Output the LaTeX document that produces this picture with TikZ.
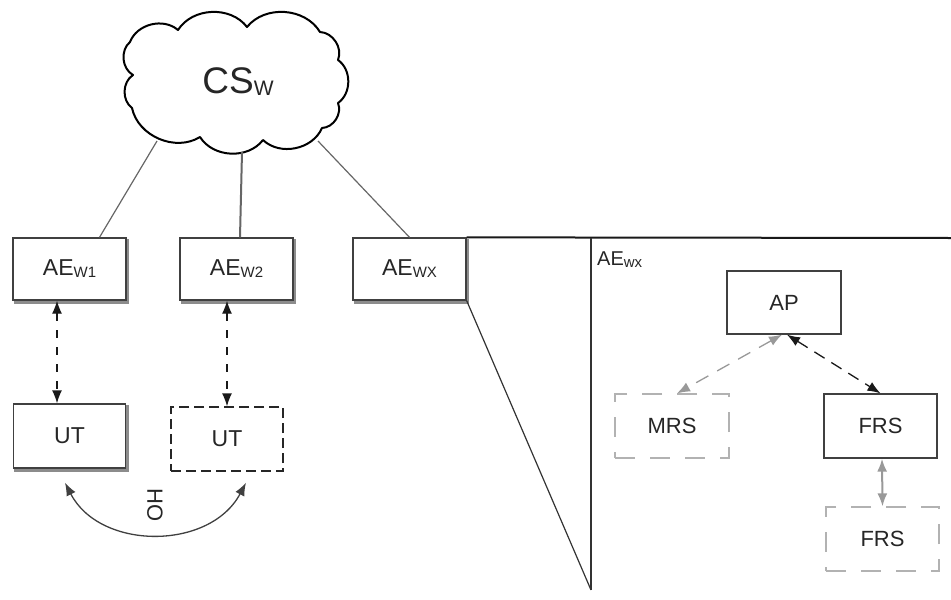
\documentclass[tikz,border=0pt]{standalone}
\usepackage{fontspec}
\setmainfont{Liberation Sans}
\usetikzlibrary{arrows.meta}

% small lowered index used in the labels
\newcommand\sbs[2][15]{{\fontsize{#1}{#1}\selectfont\raisebox{-2pt}{#2}}}

\begin{document}
\begin{tikzpicture}[x=1pt,y=-1pt,
  txt/.style={text=black!85},
  box/.style={draw=black!75, line width=1.3pt, fill=white, inner sep=0pt,
    minimum width=113pt, minimum height=62pt,
    font=\fontsize{23}{26}\selectfont, txt},
  dbox/.style={box, draw=black!85, dash pattern=on 10pt off 5pt, line width=1.3pt},
  gbox/.style={box, draw=black!30, dash pattern=on 20pt off 15pt, line width=1.2pt,
    font=\fontsize{22}{24}\selectfont},
  ibox/.style={box, font=\fontsize{22}{24}\selectfont},
  edge shade/.style={draw=black!45, line width=2.5pt},
  link/.style={draw=black!60, line width=1.2pt},
  both/.style={{Latex[length=13pt,width=10pt]}-{Latex[length=13pt,width=10pt]}},
  darr/.style={both, draw=black!90, line width=1.3pt, dash pattern=on 8pt off 9pt},
  garr/.style={both, draw=black!40, color=black!40, line width=1.3pt, dash pattern=on 14pt off 10pt},
  panel/.style={draw=black!80, line width=1.2pt},
  puff/.style={bend left=55},
]
\useasboundingbox (0,0) rectangle (951,600);

% core network cloud
\node[txt, inner sep=0pt] (cloud) at (238,82)
  {\fontsize{37}{40}\selectfont CS\sbs[21]{W}};
\draw[line width=2pt, line join=round]
  (130,42) to[puff] (178,30) to[puff] (247,27) to[puff] (320,32)
  to[puff] (338,60) to[puff] (338,103) to[puff] (322,128)
  to[puff] (263,140) to[puff] (200,137) to[puff] (132,108)
  to[puff] (133,75) to[puff] cycle;
\coordinate (cl1) at (157,141);
\coordinate (cl2) at (242,152);
\coordinate (cl3) at (318,141);

% access entities
\node[box] (ae1) at (69.5,269) {AE\sbs{W1}};
\node[box] (ae2) at (236.5,269) {AE\sbs{W2}};
\node[box] (ae3) at (409.5,269) {AE\sbs{WX}};

\draw[link] (cl1) -- ([xshift=30pt]ae1.north);
\draw[link, line width=2pt] (cl2) -- ([xshift=3.5pt]ae2.north);
\draw[link] (cl3) -- (ae3.north);

% user terminals
\node[box, minimum width=112pt, minimum height=64pt] (ut1) at (69.5,436) {UT};
\node[dbox, minimum width=112pt, minimum height=64pt] (ut2) at (227,439) {UT};

% shaded lower and right edges of the solid boxes
\foreach \n in {ae1,ae2,ae3,ut1}
  \draw[edge shade] ([shift={(1.2pt,-1.6pt)}]\n.south west)
    -- ([shift={(1.2pt,-1.6pt)}]\n.south east) -- ([shift={(1.2pt,-1.5pt)}]\n.north east);

\draw[darr] ([xshift=-12.5pt]ae1.south) -- ([xshift=-12.5pt]ut1.north);
\draw[darr] (ae2.south -| ut2.north) -- (ut2.north);

% handover between the terminals
\coordinate (ho1) at ([xshift=-4.5pt,yshift=-14pt]ut1.south);
\coordinate (ho2) at ([xshift=19pt,yshift=-11pt]ut2.south);
\draw[both, draw=black!75, line width=1.3pt]
  (ho1) .. controls +(35,68) and +(-36,68) .. (ho2);
\node[txt, rotate=-90, font=\fontsize{22}{24}\selectfont] (ho) at (155,505) {HO};

% detail panel of AE_WX
\coordinate (pr) at (951,238);
\coordinate (pt) at (591,238);
\coordinate (pb) at (591,590);
\draw[panel, line width=2pt, draw=black!90] (ae3.north east) -- (pr);
\draw[panel] (pt) -- (pb);
\draw[panel] (ae3.south east) -- (pb);

\node[txt, anchor=base west, font=\fontsize{20}{22}\selectfont, inner sep=0pt]
  (lbl) at (597,265) {AE\sbs[15]{wx}};

\node[ibox, minimum width=114pt, minimum height=63pt] (ap) at (784,302.5) {AP};
\node[gbox, minimum width=114pt, minimum height=64pt] (mrs) at (672,426) {MRS};
\node[ibox, minimum width=113pt, minimum height=64pt] (frs) at (880.5,426) {FRS};
\node[gbox, minimum width=113pt, minimum height=64pt] (frs2) at (882.5,539) {FRS};

\draw[garr] ([xshift=-2pt]ap.south) -- ([xshift=5pt]mrs.north);
\draw[darr, dash pattern=on 12pt off 8pt] ([xshift=3pt]ap.south) -- (frs.north);
\draw[both, draw=black!40, color=black!40, line width=2pt] ([xshift=1.5pt]frs.south) -- (frs2.north);
\end{tikzpicture}
\end{document}
